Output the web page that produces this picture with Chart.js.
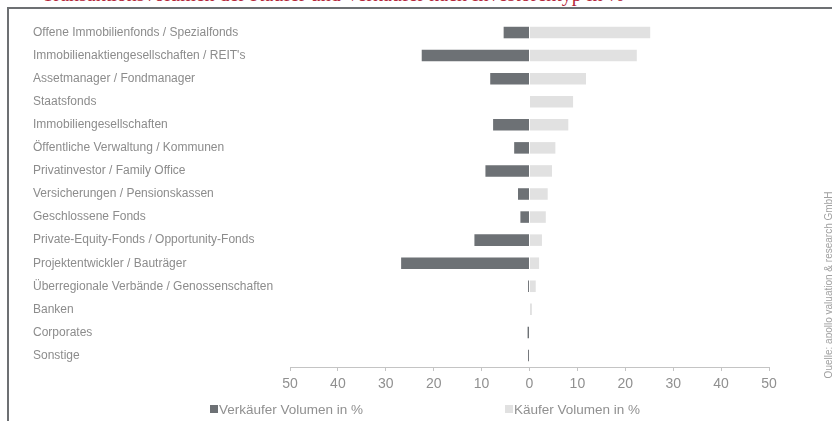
<!DOCTYPE html>
<html lang="de">
<head>
<meta charset="utf-8">
<title>Investorentyp</title>
<script src="https://cdn.jsdelivr.net/npm/chart.js@4.4.0/dist/chart.umd.min.js"></script>
<style>
    html, body { margin: 0; padding: 0; background: #fff; }
    body { width: 832px; height: 421px; position: relative; overflow: hidden; font-family: 'Liberation Sans', Arial, sans-serif; }
    .title { position: absolute; left: 42px; top: -16px; font: 20px/20px 'Liberation Serif', serif; color: #b3263a; white-space: nowrap; }
    .frame { position: absolute; left: 7px; top: 7px; right: -10px; bottom: -10px; border-top: 2.5px solid #6d7073; border-left: 2.5px solid #6d7073; }
    #wrap { position: absolute; left: 0; top: 0; width: 832px; height: 421px; }
    .legend { position: absolute; top: 401px; font-size: 13.5px; line-height: 18px; color: #909090; white-space: nowrap; }
    .legend span { display: inline-block; width: 8px; height: 8px; margin-right: 1px; vertical-align: 1px; }
    .source { position: absolute; left: 828px; top: 285px; font-size: 10px; color: #a0a0a0; white-space: nowrap; transform: translate(-50%, -50%) rotate(-90deg); }
</style>
</head>
<body>
<div class="title">Transaktionsvolumen der Käufer und Verkäufer nach Investorentyp in %</div>
<div id="wrap"><canvas id="chart"></canvas></div>
<div class="frame"></div>
<div class="legend" style="left:210px"><span style="background:#6d7175"></span>Verkäufer Volumen in %</div>
<div class="legend" style="left:505px"><span style="background:#e1e1e1"></span>Käufer Volumen in %</div>
<div class="source">Quelle: apollo valuation &amp; research GmbH</div>
<script>
// Kategorien (Investorentyp)
const categories = [
    'Offene Immobilienfonds / Spezialfonds',
    'Immobilienaktiengesellschaften / REIT\'s',
    'Assetmanager / Fondmanager',
    'Staatsfonds',
    'Immobiliengesellschaften',
    'Öffentliche Verwaltung / Kommunen',
    'Privatinvestor / Family Office',
    'Versicherungen / Pensionskassen',
    'Geschlossene Fonds',
    'Private-Equity-Fonds / Opportunity-Fonds',
    'Projektentwickler / Bauträger',
    'Überregionale Verbände / Genossenschaften',
    'Banken',
    'Corporates',
    'Sonstige',
]

// Werte in %
const verkaeufer = [5.4, 22.5, 8.2, 0, 7.6, 3.2, 9.2, 2.4, 1.9, 11.5, 26.8, 0.3, 0, 0.4, 0.3]
const kaeufer = [25.2, 22.4, 11.8, 9.1, 8.1, 5.4, 4.7, 3.8, 3.4, 2.6, 2.0, 1.3, 0.5, 0, 0]

// Achse
const axisMin = -50
const axisMax = 50
const axisStep = 10

const ctx = document.getElementById('chart')

// eslint-disable-next-line no-new, no-undef
new Chart(ctx, {
    type: 'bar',
    data: {
        labels: categories,
        datasets: [
            {
                label: 'Verkäufer Volumen in %',
                data: verkaeufer.map(v => -v),
                backgroundColor: '#6d7175',
                borderWidth: 0,
            },
            {
                label: 'Käufer Volumen in %',
                data: kaeufer,
                backgroundColor: '#e1e1e1',
                borderWidth: 0,
            },
        ],
    },
    options: {
        indexAxis: 'y',
        responsive: true,
        maintainAspectRatio: false,
        animation: false,
        layout: {
            padding: { left: 33, right: 63, top: 21, bottom: 24 },
        },
        plugins: {
            legend: { display: false },
            tooltip: { enabled: false },
        },
        datasets: {
            bar: { categoryPercentage: 1, barPercentage: 0.5 },
        },
        scales: {
            x: {
                stacked: true,
                min: axisMin,
                max: axisMax,
                border: { color: '#c4c4c4', width: 1 },
                grid: { drawOnChartArea: false, tickLength: 4, color: '#c4c4c4' },
                ticks: {
                    stepSize: axisStep,
                    padding: 5,
                    color: '#909090',
                    font: { family: 'Liberation Sans', size: 14 },
                    callback: value => Math.abs(value),
                },
                afterFit: scale => { scale.height = 30 },
            },
            y: {
                stacked: true,
                border: { display: false },
                grid: { display: false },
                ticks: {
                    crossAlign: 'far',
                    color: '#8c8c8c',
                    font: { family: 'Liberation Sans', size: 12 },
                },
                afterFit: scale => { scale.width = 257 },
            },
        },
    },
})
</script>
</body>
</html>
